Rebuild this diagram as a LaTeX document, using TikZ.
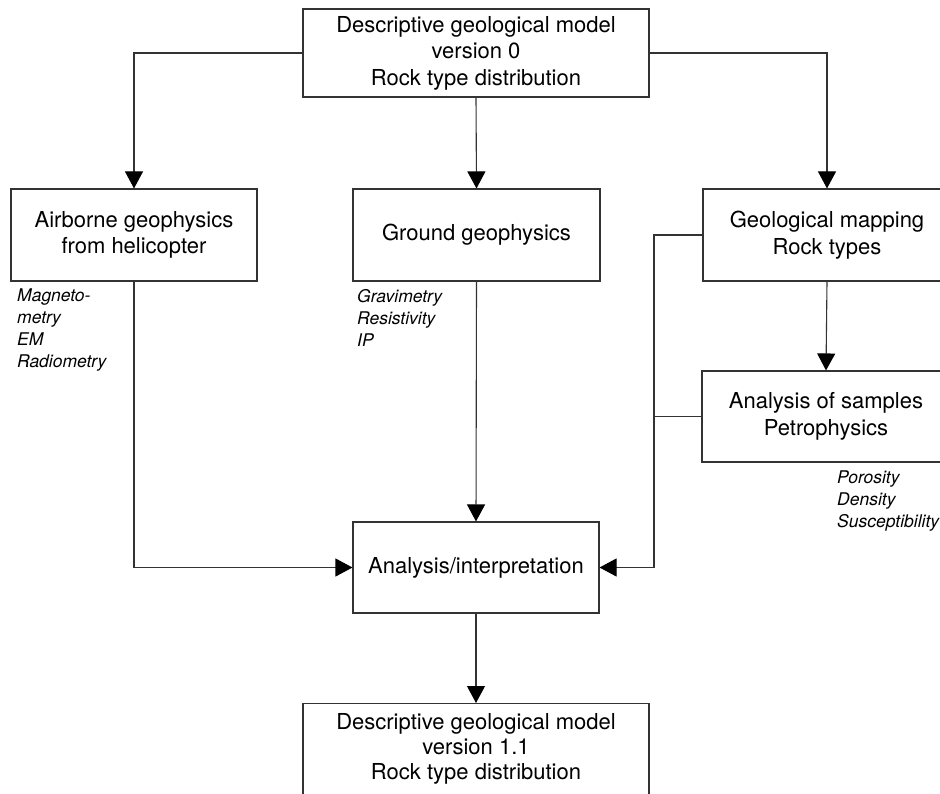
\documentclass[tikz,border=0pt]{standalone}
\usepackage{fontspec}
\setmainfont{TeX Gyre Heros}
\usetikzlibrary{arrows.meta}

\tikzset{
  box/.style={draw=black!80, line width=1.1pt, fill=white, align=center,
    inner sep=0pt, font=\fontsize{22}{26.5}\selectfont},
  note/.style={anchor=north west, inner sep=0pt, align=left,
    font=\fontsize{17.5}{22}\selectfont\itshape},
  link/.style={draw=black!80, line width=1.1pt},
  flow/.style={link, -{Triangle[length=17pt,width=18pt,color=black]}},
}

\begin{document}
\begin{tikzpicture}[x=1pt, y=-1pt]
  \clip (0,0) rectangle (940,794);
  \useasboundingbox (0,0) rectangle (940,794);

  % model boxes
  \node[box, minimum width=346pt, minimum height=88pt] (model0) at (476,53)
    {Descriptive geological model\\version 0\\Rock type distribution};
  \node[box, minimum width=346pt, minimum height=100pt, anchor=north] (model1) at (476,703) {};
  \node[align=center, inner sep=0pt, font=\fontsize{22}{25}\selectfont] (model1text) at (476,749)
    {Descriptive geological model\\version 1.1\\Rock type distribution};

  % survey boxes
  \node[box, minimum width=246pt, minimum height=92pt] (airborne) at (134,235)
    {Airborne geophysics\\from helicopter};
  \node[box, minimum width=247pt, minimum height=92pt] (ground) at (476.5,235)
    {Ground geophysics};
  \node[box, minimum width=248pt, minimum height=92pt] (geomap) at (827,235)
    {Geological mapping\\Rock types};
  \node[box, minimum width=248pt, minimum height=91pt] (samples) at (826,416.5)
    {Analysis of samples\\Petrophysics};
  \node[box, minimum width=246pt, minimum height=91pt] (analysis) at (476,567.5)
    {Analysis/interpretation};

  % method lists
  \node[note] (airnote) at (17,289) {Magneto-\\metry\\EM\\Radiometry};
  \node[note] (groundnote) at (357,289) {Gravimetry\\Resistivity\\IP};
  \node[note] (samplenote) at (837,471) {Porosity\\Density\\Susceptibility};

  % connectors
  \coordinate (bus) at (654,235);
  \draw[flow] (model0.west) -| (airborne.north);
  \draw[flow] (model0.south) -- (ground.north);
  \draw[flow] (model0.east) -| (geomap.north);
  \draw[flow] (geomap.south) -- (samples.north);
  \draw[flow] (airborne.south) |- (analysis.west);
  \draw[flow] (ground.south) -- (analysis.north);
  \draw[flow] (geomap.west) -- (bus) |- (analysis.east);
  \draw[link] (samples.west) -- (samples.west -| bus);
  \draw[flow] (analysis.south) -- (model1.north);
\end{tikzpicture}
\end{document}
